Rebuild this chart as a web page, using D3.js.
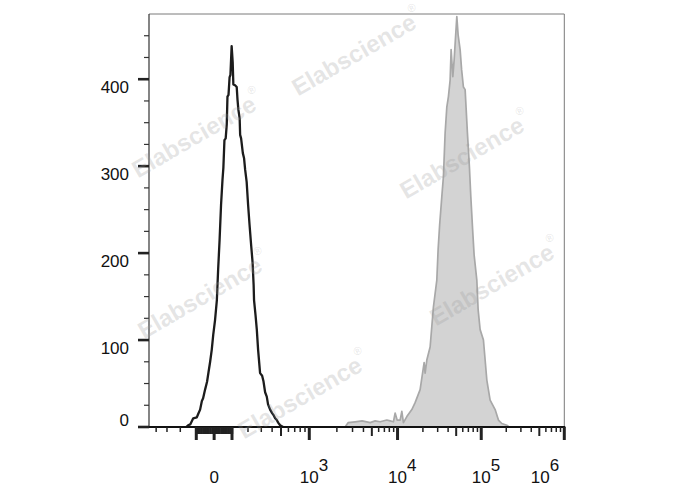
<!DOCTYPE html>
<html><head><meta charset="utf-8">
<script src="https://cdn.jsdelivr.net/npm/d3@7/dist/d3.min.js"></script>
<style>html,body{margin:0;padding:0;background:#fff;}svg{display:block;}</style>
</head><body>
<svg id="c" width="688" height="490"></svg>
<script>
// ---- data ----
const blackX = [-161,-149,-136,-118,-97,-89,-78,-68,-61,-50,-39,-31,-22,-13,-5,5,15,22,30,38,46,51,57,64,70,74,80,86,91,98,104,108,118,128,133,138,146,149,155,166,174,181,191,201,211,222,232,240,243,254,264,274,290,307,318,333,348,360,380,400,413,432,450,466,489,527];
const blackY = [0,2,3,10,11,15,20,30,33,43,52,63,75,89,106,123,146,181,215,255,284,298,330,332,348,380,382,402,405,438,420,394,393,391,376,365,355,336,332,315,309,296,282,255,232,209,190,163,146,129,112,89,62,59,53,40,35,26,20,16,14,10,8,5,2,0];
const grayX = [2472,2673,3210,3861,4776,5458,6241,7474,8174,8941,9362,9888,10726,11233,11733,12878,14759,16150,18525,20675,21254,22267,24375,26689,29310,30376,31660,33636,35154,36841,38612,40359,42299,43479,45570,47238,50889,52756,55750,58100,61069,64020,68238,72093,74924,78780,82093,88478,91730,96970,106250,116730,127870,146900,160950,176850,203180,216550];
const grayY = [0,5,6,7,5,7,6,8,7,6,16,8,8,18,5,12,20,28,43,74,62,77,92,138,169,204,232,265,288,338,368,380,399,434,403,422,472,451,434,411,391,388,338,299,265,227,198,169,135,112,100,54,31,20,8,4,2,0];
const yMajor = [0,100,200,300,400];
const yMinor = [25,50,75,125,150,175,225,250,275,325,350,375,425,450];
const xMajor = [1e3,1e4,1e5,1e6];
const xMajorExp = ["3","4","5","6"];
const xMedium = [500,5e3,5e4,5e5];
const xMinor = [-400,-300,-200,200,300,400,600,700,800,900,
  2e3,3e3,4e3,6e3,7e3,8e3,9e3,2e4,3e4,4e4,6e4,7e4,8e4,9e4,2e5,3e5,4e5,6e5,7e5,8e5,9e5];
const xNearZero = d3.range(-100,101,10);
const xNearZeroMajor = [-100,0,100];
const watermarks = [[357,52],[197,134],[465,155],[203,295],[495,282],[303,395]];

// ---- logicle transform ----
const T = 1e6, W = 0.5, M = 4.72, A = 0.285;
let lo=1.0001, hi=20;
for(let i=0;i<80;i++){const m=(lo+hi)/2; (2*m*Math.log10(m)/(m+1) < W) ? lo=m : hi=m;}
const P = (lo+hi)/2;
function raw(a){return Math.pow(10,a) - P*P*Math.pow(10,-a/P) + P*P - 1;}
const C = T / raw(M-W);
function inv(d){const s=Math.sign(d), a=Math.abs(d); return s*C*raw(a);}
function fwd(v){let a=-(W+A)-2, b=M-W+2; for(let i=0;i<70;i++){const m=(a+b)/2; inv(m)<v ? a=m : b=m;} return (a+b)/2;}

const L = 149, R = 564.3, TOP = 14, BOT = 427;
const xd = d3.scaleLinear().domain([-(W+A), M-W]).range([L, R]);
const x = v => xd(fwd(v));
const y = d3.scaleLinear().domain([0,475]).range([BOT, TOP]);

const svg = d3.select("#c");
const FONT = "'Liberation Sans', Arial, Helvetica, sans-serif";

// gray filled histogram (with zero baseline across axis)
const xMin = inv(-(W+A)), xMax = inv(M-W);
const gray = [[xMin,0]].concat(grayX.map((v,i)=>[v,grayY[i]])).concat([[xMax,0]]);
const area = d3.area().x(d=>x(d[0])).y0(y(0)).y1(d=>y(d[1]));
const line = d3.line().x(d=>x(d[0])).y(d=>y(d[1]));
svg.append("path").attr("d", area(gray)).attr("fill","#d3d3d3").attr("stroke","none");
svg.append("path").attr("d", line(gray)).attr("fill","none").attr("stroke","#a8a8a8").attr("stroke-width",1.7).attr("stroke-linejoin","round");

// black histogram line
const black = blackX.map((v,i)=>[v,blackY[i]]);
svg.append("path").attr("d", line(black)).attr("fill","none").attr("stroke","#1c1c1c").attr("stroke-width",2.3).attr("stroke-linejoin","round");

// frame
svg.append("line").attr("x1",L).attr("x2",R).attr("y1",TOP).attr("y2",TOP).attr("stroke","#7a7a7a").attr("stroke-width",1);
svg.append("line").attr("x1",R).attr("x2",R).attr("y1",TOP).attr("y2",BOT).attr("stroke","#7a7a7a").attr("stroke-width",1);
svg.append("line").attr("x1",L).attr("x2",L).attr("y1",TOP).attr("y2",BOT).attr("stroke","#333").attr("stroke-width",1.2);

// y ticks
yMinor.forEach(v=>svg.append("line").attr("x1",L-5).attr("x2",L).attr("y1",y(v)).attr("y2",y(v)).attr("stroke","#333").attr("stroke-width",1.2));
yMajor.forEach(v=>{
  svg.append("line").attr("x1",L-11).attr("x2",L).attr("y1",y(v)).attr("y2",y(v)).attr("stroke","#222").attr("stroke-width",2.6);
  svg.append("text").attr("x",129).attr("y",y(v) + (v===0 ? -1 : 14)).attr("text-anchor","end")
    .attr("font-family",FONT).attr("font-size",17).attr("fill","#111").text(v);
});

// x axis line
svg.append("line").attr("x1",L).attr("x2",R+1).attr("y1",BOT).attr("y2",BOT).attr("stroke","#111").attr("stroke-width",2.2);

// x ticks
function xt(v,len,w){svg.append("line").attr("x1",x(v)).attr("x2",x(v)).attr("y1",BOT).attr("y2",BOT+len).attr("stroke","#222").attr("stroke-width",w);}
xMinor.forEach(v=>xt(v,5,1.5));
xMedium.forEach(v=>xt(v,9,2));
xNearZero.forEach(v=>xt(v,7,2.4));
xNearZeroMajor.forEach(v=>xt(v,13,3));
xMajor.forEach(v=>xt(v,13,3));

// x tick labels
svg.append("text").attr("x",x(0)).attr("y",483).attr("text-anchor","middle")
  .attr("font-family",FONT).attr("font-size",17).attr("fill","#111").text("0");
xMajor.forEach((v,i)=>{
  const shift = (i===xMajor.length-1) ? -24 : 0;
  const t = svg.append("text").attr("x",x(v)-9.5+shift).attr("y",483)
    .attr("font-family",FONT).attr("font-size",17).attr("fill","#111");
  t.append("tspan").text("10");
  t.append("tspan").attr("dy",-12).attr("font-size",17).text(xMajorExp[i]);
});

// watermarks
watermarks.forEach(([cx,cy])=>{
  const g = svg.append("g").attr("transform",`translate(${cx},${cy}) rotate(-30)`);
  const t = g.append("text").attr("text-anchor","middle").attr("dominant-baseline","central")
    .attr("font-family",FONT).attr("font-weight","bold").attr("font-size",24)
    .attr("fill","#9a9a9a").attr("fill-opacity",0.26);
  t.append("tspan").text("Elabscience");
  t.append("tspan").attr("font-size",11).attr("dy",-11).attr("font-weight","normal").text("®");
});
</script>
</body></html>
